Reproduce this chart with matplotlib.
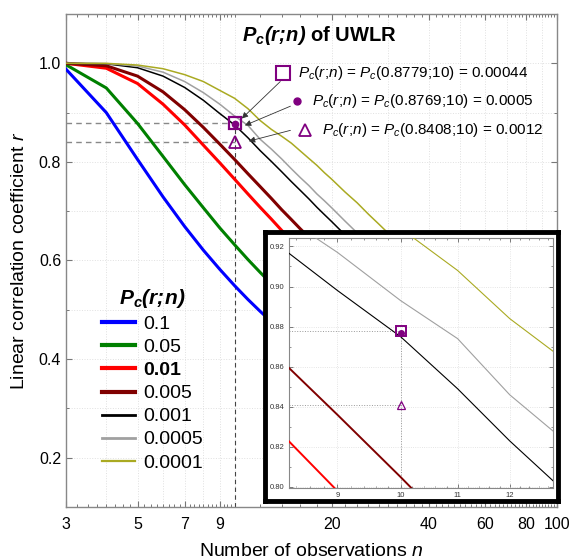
import numpy as np
import matplotlib
matplotlib.use('Agg')
import matplotlib.pyplot as plt
from matplotlib.lines import Line2D
from matplotlib.ticker import FixedLocator, FixedFormatter, NullFormatter

plt.rcParams['font.family'] = ['Liberation Sans', 'DejaVu Sans']
plt.rcParams['mathtext.fontset'] = 'custom'
plt.rcParams['mathtext.rm'] = 'Liberation Sans'
plt.rcParams['mathtext.it'] = 'Liberation Sans:italic'
plt.rcParams['mathtext.bf'] = 'Liberation Sans:bold'
plt.rcParams['mathtext.bfit'] = 'Liberation Sans:bold:italic'

# ---------------- data ----------------
n_obs = [3, 4, 5, 6, 7, 8, 9, 10, 11, 12, 13, 14, 15, 16, 17, 18, 19, 20,
         22, 24, 26, 28, 30, 35, 40, 45, 50, 60, 70, 80, 90, 100]

r_p0_1 = [0.988, 0.900, 0.805, 0.729, 0.669, 0.621, 0.582, 0.549, 0.521, 0.497, 0.476, 0.458,
          0.441, 0.426, 0.412, 0.400, 0.389, 0.378, 0.360, 0.344, 0.330, 0.317, 0.306, 0.283,
          0.264, 0.248, 0.235, 0.214, 0.198, 0.185, 0.174, 0.165]
r_p0_05 = [0.997, 0.950, 0.878, 0.811, 0.754, 0.707, 0.666, 0.632, 0.602, 0.576, 0.553, 0.532,
           0.514, 0.497, 0.482, 0.468, 0.456, 0.444, 0.423, 0.404, 0.388, 0.374, 0.361, 0.334,
           0.312, 0.294, 0.279, 0.254, 0.235, 0.220, 0.207, 0.197]
r_p0_01 = [1.000, 0.990, 0.959, 0.917, 0.875, 0.834, 0.798, 0.765, 0.735, 0.708, 0.684, 0.661,
           0.641, 0.623, 0.606, 0.590, 0.575, 0.561, 0.537, 0.515, 0.496, 0.479, 0.463, 0.430,
           0.403, 0.380, 0.361, 0.330, 0.306, 0.286, 0.270, 0.256]
r_p0_005 = [1.000, 0.995, 0.974, 0.942, 0.906, 0.870, 0.836, 0.805, 0.776, 0.750, 0.726, 0.703,
            0.683, 0.664, 0.647, 0.631, 0.616, 0.602, 0.576, 0.554, 0.534, 0.515, 0.499, 0.464,
            0.435, 0.411, 0.391, 0.358, 0.332, 0.311, 0.293, 0.279]
r_p0_001 = [1.000, 0.999, 0.991, 0.974, 0.951, 0.925, 0.898, 0.875, 0.849, 0.823, 0.801, 0.780,
            0.760, 0.742, 0.725, 0.708, 0.693, 0.679, 0.652, 0.629, 0.607, 0.588, 0.570, 0.532,
            0.501, 0.474, 0.451, 0.414, 0.385, 0.361, 0.341, 0.324]
r_p0_0005 = [1.000, 0.9995, 0.9945, 0.982, 0.963, 0.9405, 0.917, 0.893, 0.874, 0.846, 0.826, 0.806,
             0.786, 0.768, 0.752, 0.735, 0.721, 0.707, 0.680, 0.656, 0.634, 0.615, 0.597, 0.559,
             0.525, 0.498, 0.474, 0.436, 0.406, 0.381, 0.360, 0.343]
r_p0_0001 = [1.000, 0.9999, 0.9965, 0.989, 0.977, 0.963, 0.945, 0.929, 0.908, 0.884, 0.866, 0.852,
             0.838, 0.822, 0.807, 0.793, 0.778, 0.765, 0.739, 0.717, 0.694, 0.674, 0.655, 0.615,
             0.578, 0.551, 0.525, 0.484, 0.451, 0.424, 0.402, 0.383]

p_labels = ['0.1', '0.05', '0.01', '0.005', '0.001', '0.0005', '0.0001']
series = [r_p0_1, r_p0_05, r_p0_01, r_p0_005, r_p0_001, r_p0_0005, r_p0_0001]
colors = ['#0000FF', '#008000', '#FF0000', '#800000', '#000000', '#A0A0A0', '#AAAA22']
main_lw = [2.2, 2.2, 2.2, 2.2, 1.1, 1.1, 1.1]
leg_lw = [3.0, 3.0, 3.0, 3.0, 2.0, 2.0, 1.6]
inset_lw = [1.4, 1.4, 1.4, 1.4, 0.8, 0.8, 0.8]

pt_n = 10
r_square = 0.8779
r_dot = 0.8769
r_tri = 0.8408
ann_texts = [r'$\mathit{P_c(r;\!n)}$ = $\mathit{P_c(0.8779;\!10)}$ = 0.00044',
             r'$\mathit{P_c(r;\!n)}$ = $\mathit{P_c(0.8769;\!10)}$ = 0.0005',
             r'$\mathit{P_c(r;\!n)}$ = $\mathit{P_c(0.8408;\!10)}$ = 0.0012']

x_major_labels = [3, 5, 7, 9, 20, 40, 60, 80, 100]
purple = '#800080'

W, H = 570, 559
fig = plt.figure(figsize=(W / 100, H / 100), dpi=100)
ax = fig.add_axes([66 / W, 1 - 507 / H, 491 / W, 493 / H])

for r, c, lw in zip(series, colors, main_lw):
    ax.plot(n_obs, r, color=c, lw=lw, zorder=3)

ax.set_xscale('log')
ax.set_xlim(3, 100)
ax.set_ylim(0.1, 1.1)

grid_x = [4, 5, 6, 7, 8, 9, 10, 20, 30, 40, 50, 60, 70, 80, 90]
ax.xaxis.set_major_locator(FixedLocator(x_major_labels))
ax.xaxis.set_major_formatter(FixedFormatter([str(v) for v in x_major_labels]))
minor_x = list(np.arange(3, 10, 0.25)) + list(np.arange(10, 100.1, 2))
ax.xaxis.set_minor_locator(FixedLocator(minor_x))
ax.xaxis.set_minor_formatter(NullFormatter())
for gx in grid_x:
    ax.axvline(gx, color='#e0e0e0', lw=0.7, ls=':', zorder=0)

ax.set_yticks([0.2, 0.4, 0.6, 0.8, 1.0])
ax.set_yticklabels(['0.2', '0.4', '0.6', '0.8', '1.0'])
ax.set_yticks([0.1, 0.3, 0.5, 0.7, 0.9, 1.1], minor=True)
ax.yaxis.grid(True, which='both', color='#e0e0e0', lw=0.7, ls=':')
ax.set_axisbelow(True)

ax.tick_params(which='both', direction='in', top=True, right=True, colors='#777777',
               labelcolor='black', labelsize=11.5)
ax.tick_params(which='major', length=4, width=0.8)
ax.tick_params(which='minor', length=2.5, width=0.7)
ax.tick_params(axis='x', pad=7)
for s in ax.spines.values():
    s.set_color('#888888')
    s.set_linewidth(1.0)

ax.set_xlabel('Number of observations $n$', fontsize=14, labelpad=8)
ax.set_ylabel('Linear correlation coefficient $r$', fontsize=14, labelpad=8)

# reference lines and points
ax.plot([3, pt_n], [r_square, r_square], ls='--', color='#888888', lw=1.0, dashes=(4, 3), zorder=2)
ax.plot([3, pt_n], [r_tri, r_tri], ls='--', color='#888888', lw=1.0, dashes=(4, 3), zorder=2)
ax.plot([pt_n, pt_n], [0.1, r_square], ls='--', color='#444444', lw=0.8, dashes=(4, 3), zorder=2)
ax.plot(pt_n, r_square, marker='s', ms=8, mfc='none', mec=purple, mew=1.6, zorder=5)
ax.plot(pt_n, r_dot, marker='o', ms=4.5, mfc=purple, mec=purple, zorder=5)
ax.plot(pt_n, r_tri, marker='^', ms=8, mfc='none', mec=purple, mew=1.3, zorder=5)

# title
ax.text(0.517, 0.957, r'$\mathbfit{P_c(r;\!n)}$ of UWLR', transform=ax.transAxes,
        ha='center', va='center', fontsize=14.5, fontweight='bold')

# annotation markers and texts
ax.plot(0.442, 0.880, marker='s', ms=9.5, mfc='none', mec=purple, mew=1.5, transform=ax.transAxes, clip_on=False)
ax.plot(0.4705, 0.8235, marker='o', ms=5, mfc=purple, mec=purple, transform=ax.transAxes, clip_on=False)
ax.plot(0.4868, 0.7647, marker='^', ms=9, mfc='none', mec=purple, mew=1.3, transform=ax.transAxes, clip_on=False)
ax.text(0.4725, 0.880, ann_texts[0], transform=ax.transAxes, ha='left', va='center', fontsize=11)
ax.text(0.501, 0.8235, ann_texts[1], transform=ax.transAxes, ha='left', va='center', fontsize=11)
ax.text(0.5214, 0.7647, ann_texts[2], transform=ax.transAxes, ha='left', va='center', fontsize=11)

arrow_kw = dict(arrowstyle='-|>', color='#333333', lw=0.6, mutation_scale=9, shrinkA=0, shrinkB=0)
ax.annotate('', xy=(10.53, 0.888), xytext=(13.86, 0.963), arrowprops=arrow_kw, zorder=6)
ax.annotate('', xy=(10.76, 0.874), xytext=(14.9, 0.913), arrowprops=arrow_kw, zorder=6)
ax.annotate('', xy=(11.07, 0.842), xytext=(14.9, 0.864), arrowprops=arrow_kw, zorder=6)

# legend
handles = [Line2D([], [], color=c, lw=lw) for c, lw in zip(colors, leg_lw)]
leg = ax.legend(handles, p_labels, loc='upper left', bbox_to_anchor=(0.073, 0.446),
                frameon=False, fontsize=14, title=r'$\mathbfit{P_c(r;\!n)}$',
                title_fontsize=15, handlelength=1.7, handletextpad=0.45,
                labelspacing=0.28, borderpad=0, borderaxespad=0)
for t in leg.get_texts():
    if t.get_text() == '0.01':
        t.set_fontweight('bold')

# inset frame
frame = fig.add_axes([265 / W, 1 - 501 / H, 293 / W, 269 / H])
frame.set_xticks([])
frame.set_yticks([])
frame.set_facecolor('white')
for s in frame.spines.values():
    s.set_linewidth(3.5)
    s.set_color('black')

ins = fig.add_axes([289 / W, 1 - 488 / H, 264 / W, 250 / H])
for r, c, lw in zip(series, colors, inset_lw):
    ins.plot(n_obs, r, color=c, lw=lw, zorder=3)
ins.set_xscale('log')
ins.set_xlim(8.3, 12.9)
ins.set_ylim(0.7995, 0.9242)
ins.xaxis.set_major_locator(FixedLocator([9, 10, 11, 12]))
ins.xaxis.set_major_formatter(FixedFormatter(['9', '10', '11', '12']))
ins.xaxis.set_minor_locator(FixedLocator(list(np.arange(8.4, 12.95, 0.2))))
ins.xaxis.set_minor_formatter(NullFormatter())
ins.set_yticks([0.80, 0.82, 0.84, 0.86, 0.88, 0.90, 0.92])
ins.set_yticklabels(['0.80', '0.82', '0.84', '0.86', '0.88', '0.90', '0.92'])
ins.set_yticks([0.81, 0.83, 0.85, 0.87, 0.89, 0.91], minor=True)
ins.grid(True, which='major', color='#dddddd', lw=0.6, ls=':')
ins.set_axisbelow(True)
ins.tick_params(which='both', direction='in', top=True, right=True, colors='#666666',
                labelcolor='#333333', labelsize=5.5, pad=3)
ins.tick_params(which='major', length=3, width=0.6)
ins.tick_params(which='minor', length=1.5, width=0.5)
for s in ins.spines.values():
    s.set_color('#888888')
    s.set_linewidth(0.8)
ins.plot([8.3, pt_n], [r_square, r_square], ls=':', color='#999999', lw=0.7, zorder=2)
ins.plot([8.3, pt_n], [r_tri, r_tri], ls=':', color='#999999', lw=0.7, zorder=2)
ins.plot([pt_n, pt_n], [0.7995, r_square], ls=':', color='#999999', lw=0.7, zorder=2)
ins.plot(pt_n, r_square, marker='s', ms=7, mfc='none', mec=purple, mew=1.4, zorder=5)
ins.plot(pt_n, r_dot, marker='o', ms=4, mfc=purple, mec=purple, zorder=5)
ins.plot(pt_n, r_tri, marker='^', ms=6, mfc='none', mec=purple, mew=0.9, zorder=5)

fig.savefig('out.png', dpi=100)
